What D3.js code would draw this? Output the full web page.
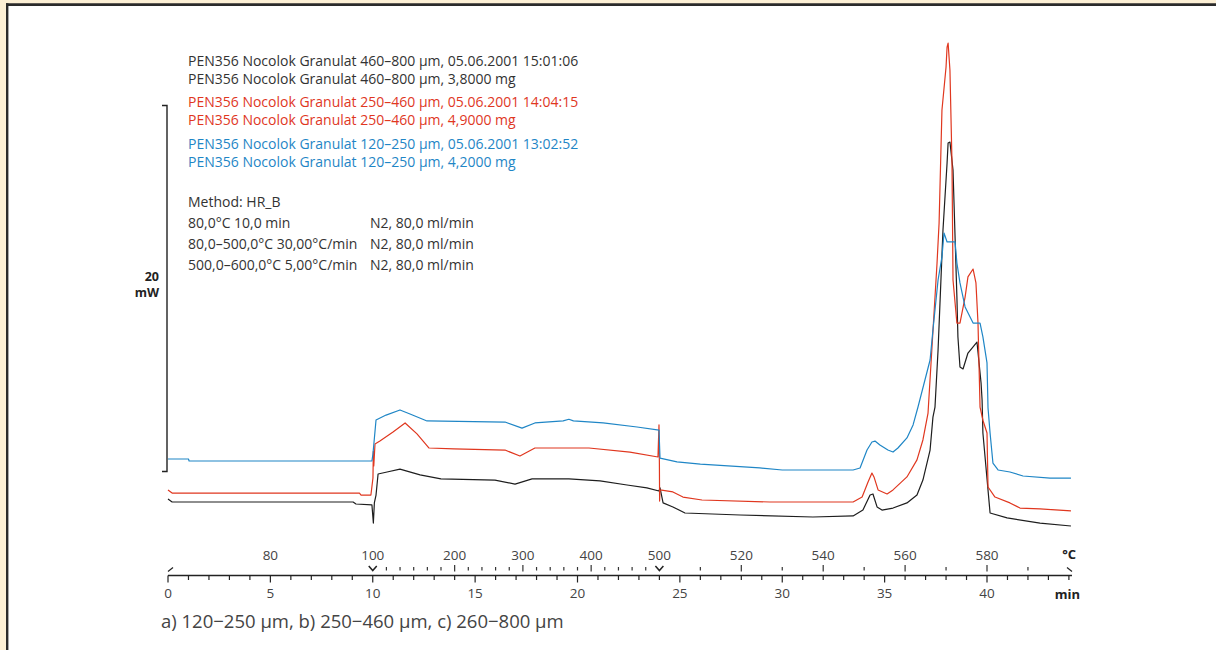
<!DOCTYPE html>
<html>
<head>
<meta charset="utf-8">
<script src="https://cdn.jsdelivr.net/npm/d3@7"></script>
<style>
  body { margin: 0; background: #fdf0d5; }
  svg { display: block; }
  text { font-family: "Open Sans", "Noto Sans", sans-serif; }
</style>
</head>
<body>
<svg width="1216" height="650"></svg>
<script>
// DSC curves, [time in min, heat flow in mW]
var blueData = [[0,3.88],[1.0,3.88],[1.03,3.77],[9.96,3.77],[10.01,4.15],[10.16,6.01],[10.65,6.28],[11.33,6.56],
  [11.82,6.34],[12.65,5.96],[16.46,5.90],[17.29,5.57],[17.92,5.85],[19.3,5.96],[19.58,6.05],[19.8,5.96],[21.25,5.85],
  [22.91,5.63],[23.98,5.46],[24.03,3.93],[24.86,3.72],[26.0,3.6],[28.9,3.39],[30.0,3.28],[33.46,3.28],[33.80,3.39],
  [34.14,4.37],[34.38,4.81],[34.53,4.86],[34.77,4.64],[35.16,4.37],[35.41,4.26],[35.65,4.48],[36.09,5.03],[36.39,5.74],
  [36.63,6.72],[37.22,9.29],[37.36,10.93],[37.61,13.66],[37.80,14.92],[37.90,16.23],[38.05,15.74],[38.44,15.74],
  [38.53,14.59],[38.68,13.50],[38.93,12.19],[39.32,11.31],[39.66,11.31],[39.80,10.55],[40.0,9.13],[40.05,6.67],
  [40.15,5.30],[40.29,3.66],[40.54,3.28],[41.12,3.17],[41.76,2.95],[43.08,2.84],[44.1,2.84]];

var redData = [[0,2.19],[0.2,2.02],[9.35,2.02],[9.43,1.91],[9.91,1.91],[10.01,2.84],[10.03,4.3],[10.05,3.5],[10.11,4.70],
  [10.35,4.86],[10.99,5.36],[11.58,5.85],[12.16,5.25],[12.75,4.48],[13.97,4.43],[16.46,4.37],[17.19,4.04],[17.92,4.48],
  [20.56,4.48],[22.56,4.26],[23.93,3.99],[23.98,5.74],[24.0,3.6],[24.01,1.58],[24.03,2.19],[24.66,2.08],[25.15,1.80],
  [26.08,1.64],[29.40,1.53],[33.46,1.53],[33.90,1.80],[34.19,2.62],[34.38,3.11],[34.48,2.90],[34.68,2.19],[35.12,1.97],
  [35.41,2.19],[36.09,2.90],[36.58,3.83],[36.87,4.92],[37.12,6.39],[37.56,14.59],[37.66,16.78],[37.80,22.95],
  [38.00,25.30],[38.05,26.39],[38.10,26.61],[38.19,25.14],[38.29,20.05],[38.34,13.66],[38.53,11.31],[38.68,11.31],
  [38.93,12.73],[39.07,13.83],[39.32,14.26],[39.46,13.50],[39.56,11.31],[39.66,6.72],[39.80,6.0],[40.0,5.30],
  [40.05,2.35],[40.39,1.80],[41.12,1.48],[41.61,1.20],[42.59,1.15],[44.1,1.04]];

var blackData = [[0,1.69],[0.2,1.53],[9.04,1.53],[9.18,1.42],[9.96,1.37],[10.03,0.38],[10.08,1.5],[10.16,1.91],
  [10.26,3.06],[10.70,3.17],[11.33,3.33],[12.31,3.01],[13.33,2.79],[15.97,2.73],[16.95,2.51],[17.78,2.79],[19.58,2.79],
  [21.10,2.68],[22.42,2.46],[23.39,2.30],[23.98,2.13],[24.03,2.30],[24.18,1.48],[24.66,1.26],[25.25,0.93],[27.94,0.82],
  [31.50,0.71],[33.46,0.77],[33.94,1.09],[34.29,1.91],[34.43,1.97],[34.63,1.26],[34.87,1.09],[35.41,1.20],[36.09,1.48],
  [36.58,1.91],[36.87,2.73],[37.22,4.37],[37.36,6.17],[37.46,6.72],[37.61,9.84],[37.85,16.39],[38.05,20.05],
  [38.10,21.15],[38.19,21.20],[38.34,19.67],[38.44,16.01],[38.53,12.73],[38.58,10.55],[38.68,8.91],[38.83,8.80],
  [39.07,9.67],[39.51,10.27],[39.71,8.03],[39.76,7.10],[39.80,5.30],[40.15,0.93],[40.98,0.66],[42.59,0.38],[44.1,0.22]];

var timeLabels = [0, 5, 10, 15, 20, 25, 30, 35, 40];
var tempLabels = ["80", "100", "200", "300", "400", "500", "520", "540", "560", "580"];
var tempLabelTimes = [5, 10, 14, 17.333, 20.667, 24, 28, 32, 36, 40];
var tempMinorTicks = [10.667, 11.333, 12, 12.667, 13.333, 14.667, 15.333, 16, 16.667, 18, 18.667, 19.333, 20,
  21.333, 22, 22.667, 23.333, 26, 30, 34, 38, 42];
var tempMajorTicks = [14, 17.333, 20.667, 28, 32, 36, 40];
var segmentMarks = [10, 24];

var legendLines = ["PEN356 Nocolok Granulat 460–800 µm, 05.06.2001 15:01:06",
  "PEN356 Nocolok Granulat 460–800 µm, 3,8000 mg",
  "PEN356 Nocolok Granulat 250–460 µm, 05.06.2001 14:04:15",
  "PEN356 Nocolok Granulat 250–460 µm, 4,9000 mg",
  "PEN356 Nocolok Granulat 120–250 µm, 05.06.2001 13:02:52",
  "PEN356 Nocolok Granulat 120–250 µm, 4,2000 mg"];
var legendColors = ["#333333", "#333333", "#e0371f", "#e0371f", "#1f86c6", "#1f86c6"];
var methodLines = ["Method: HR_B", "80,0°C 10,0 min", "80,0–500,0°C 30,00°C/min", "500,0–600,0°C 5,00°C/min"];
var gasLines = ["", "N2, 80,0 ml/min", "N2, 80,0 ml/min", "N2, 80,0 ml/min"];

var svg = d3.select("svg");

// frame
svg.append("rect").attr("x", 7).attr("y", 4.5).attr("width", 1216).attr("height", 650).attr("fill", "#ffffff");
svg.append("line").attr("x1", 6).attr("x2", 1216).attr("y1", 4.6).attr("y2", 4.6)
  .attr("stroke", "#2b2b2b").attr("stroke-width", 2.7);
svg.append("line").attr("x1", 7.2).attr("x2", 7.2).attr("y1", 3.3).attr("y2", 650)
  .attr("stroke", "#2b2b2b").attr("stroke-width", 2.4);

var x = d3.scaleLinear().domain([0, 44]).range([168, 168 + 44 * 20.475]);
var y = d3.scaleLinear().domain([0, 20]).range([530, 530 - 20 * 18.3]);

// curves
var line = d3.line()
  .x(function(d) { return x(d[0]); })
  .y(function(d) { return y(d[1]); });

var curves = [[blackData, "#1e1e1e"], [redData, "#e0371f"], [blueData, "#1f86c6"]];
curves.forEach(function(c) {
  svg.append("path")
    .datum(c[0])
    .attr("d", line)
    .attr("fill", "none")
    .attr("stroke", c[1])
    .attr("stroke-width", 1.2)
    .attr("stroke-linejoin", "round");
});

// 20 mW scale bar
var barLow = 3.2, barHigh = 23.2;
svg.append("path")
  .attr("d", "M" + 162 + "," + y(barHigh) + "H" + 167 + "V" + y(barLow) + "H" + 162)
  .attr("fill", "none").attr("stroke", "#222").attr("stroke-width", 1.4);
var mid = y((barLow + barHigh) / 2);
svg.append("text").attr("x", 159).attr("y", mid - 7).attr("text-anchor", "end")
  .attr("font-size", "12.5px").attr("font-weight", "bold").attr("fill", "#222").text("20");
svg.append("text").attr("x", 159).attr("y", mid + 9).attr("text-anchor", "end")
  .attr("font-size", "12.5px").attr("font-weight", "bold").attr("fill", "#222").text("mW");

// legend
var legY = [61, 79, 102, 120, 144, 162];
svg.append("g").selectAll("text")
  .data(legendLines)
  .enter()
  .append("text")
  .attr("x", 188)
  .attr("y", function(d, i) { return legY[i]; })
  .attr("dy", "0.35em")
  .attr("font-size", "14px")
  .attr("fill", function(d, i) { return legendColors[i]; })
  .text(function(d) { return d; });

var methY = [202, 223, 244, 265];
svg.append("g").selectAll("text")
  .data(methodLines)
  .enter()
  .append("text")
  .attr("x", 188)
  .attr("y", function(d, i) { return methY[i]; })
  .attr("dy", "0.35em")
  .attr("font-size", "14px")
  .attr("fill", "#333")
  .text(function(d) { return d; });
svg.append("g").selectAll("text")
  .data(gasLines)
  .enter()
  .append("text")
  .attr("x", 370)
  .attr("y", function(d, i) { return methY[i]; })
  .attr("dy", "0.35em")
  .attr("font-size", "14px")
  .attr("fill", "#333")
  .text(function(d) { return d; });

// time axis
var axisY = 575.5;
var xEnd = x(44.15);
svg.append("line").attr("x1", x(0)).attr("x2", xEnd).attr("y1", axisY).attr("y2", axisY)
  .attr("stroke", "#222").attr("stroke-width", 1.3);

svg.append("g").selectAll("line")
  .data(d3.range(0, 45))
  .enter()
  .append("line")
  .attr("x1", function(d) { return x(d); })
  .attr("x2", function(d) { return x(d); })
  .attr("y1", axisY)
  .attr("y2", function(d) { return d % 5 === 0 ? axisY + 7 : axisY + 4.5; })
  .attr("stroke", "#222").attr("stroke-width", 1.2);

svg.append("g").selectAll("text")
  .data(timeLabels)
  .enter()
  .append("text")
  .attr("x", function(d) { return x(d); })
  .attr("y", 593)
  .attr("dy", "0.35em")
  .attr("text-anchor", "middle")
  .attr("font-size", "13.5px")
  .attr("fill", "#444")
  .text(function(d) { return d; });

svg.append("text").attr("x", 1080).attr("y", 594).attr("dy", "0.35em").attr("text-anchor", "end")
  .attr("font-size", "13px").attr("font-weight", "bold").attr("fill", "#222").text("min");

// temperature ticks above the axis
svg.append("g").selectAll("line")
  .data(tempMinorTicks)
  .enter()
  .append("line")
  .attr("x1", function(d) { return x(d); })
  .attr("x2", function(d) { return x(d); })
  .attr("y1", axisY - 8.5).attr("y2", axisY - 5)
  .attr("stroke", "#333").attr("stroke-width", 1.2);
svg.append("g").selectAll("line")
  .data(tempMajorTicks)
  .enter()
  .append("line")
  .attr("x1", function(d) { return x(d); })
  .attr("x2", function(d) { return x(d); })
  .attr("y1", axisY - 10.5).attr("y2", axisY - 4)
  .attr("stroke", "#333").attr("stroke-width", 1.2);

svg.append("g").selectAll("path")
  .data(segmentMarks)
  .enter()
  .append("path")
  .attr("d", function(d) {
    var cx = x(d);
    return "M" + (cx - 4) + "," + (axisY - 9.5) + "L" + cx + "," + (axisY - 5) + "L" + (cx + 4) + "," + (axisY - 9.5);
  })
  .attr("fill", "none").attr("stroke", "#222").attr("stroke-width", 1.5);

svg.append("line").attr("x1", x(0)).attr("x2", x(0) + 5).attr("y1", axisY - 4).attr("y2", axisY - 8)
  .attr("stroke", "#222").attr("stroke-width", 1.2);
svg.append("line").attr("x1", xEnd - 5).attr("x2", xEnd).attr("y1", axisY - 8).attr("y2", axisY - 4)
  .attr("stroke", "#222").attr("stroke-width", 1.2);

svg.append("g").selectAll("text")
  .data(tempLabels)
  .enter()
  .append("text")
  .attr("x", function(d, i) { return x(tempLabelTimes[i]); })
  .attr("y", 555)
  .attr("dy", "0.35em")
  .attr("text-anchor", "middle")
  .attr("font-size", "13.5px")
  .attr("fill", "#444")
  .text(function(d) { return d; });

svg.append("text").attr("x", 1076).attr("y", 554).attr("dy", "0.35em").attr("text-anchor", "end")
  .attr("font-size", "13px").attr("font-weight", "bold").attr("fill", "#222").text("°C");

// caption
svg.append("text").attr("x", 161).attr("y", 622).attr("dy", "0.35em")
  .attr("font-size", "18.5px").attr("fill", "#444")
  .text("a) 120−250 µm, b) 250−460 µm, c) 260−800 µm");
</script>
</body>
</html>
